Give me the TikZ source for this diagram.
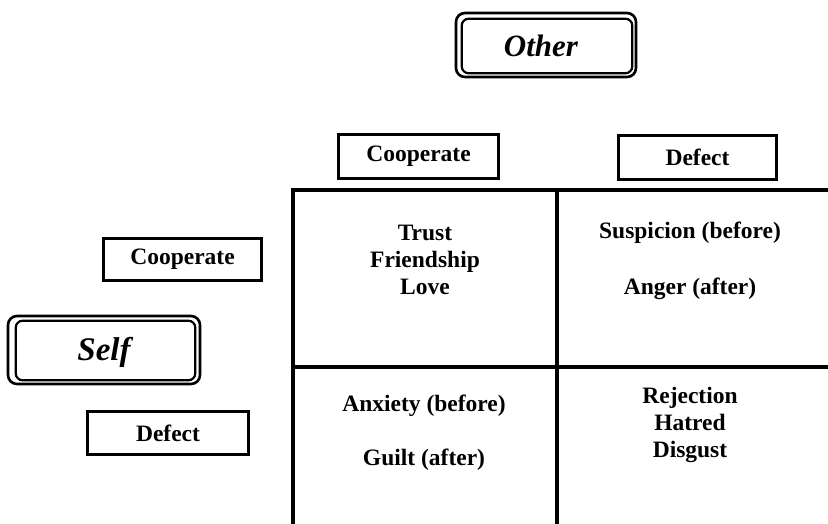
\documentclass[tikz,border=0pt]{standalone}
\usepackage{fontspec}
\setmainfont{Liberation Serif}
\begin{document}
\begin{tikzpicture}[x=1pt,y=-1pt,
  labelbox/.style={draw,line width=3.5pt,inner sep=0pt,font=\fontsize{23.5}{27}\selectfont\bfseries},
  outerbox/.style={draw,line width=2.6pt,rounded corners=9pt,inner sep=0pt},
  innerbox/.style={draw,line width=2.2pt,rounded corners=7pt},
  bigtext/.style={font=\fontsize{31}{34}\selectfont\bfseries\itshape,inner sep=0pt},
  celltext/.style={align=center,font=\fontsize{23.5}{27}\selectfont\bfseries,inner sep=0pt},
  gridline/.style={line width=3.8pt}]
\useasboundingbox (0,0) rectangle (828,524);
% Other
\node[outerbox,minimum width=180pt,minimum height=64pt] (otherbox) at (546,45) {};
\draw[innerbox] ([xshift=7pt,yshift=-7pt]otherbox.north west) rectangle ([xshift=-5pt,yshift=5pt]otherbox.south east);
\node[bigtext] (othertext) at (541,46) {Other};
% Self
\node[outerbox,minimum width=192pt,minimum height=68pt] (selfbox) at (104,350) {};
\draw[innerbox] ([xshift=9pt,yshift=-6pt]selfbox.north west) rectangle ([xshift=-6pt,yshift=5pt]selfbox.south east);
\node[bigtext,font=\fontsize{33}{36}\selectfont\bfseries\itshape] (selftext) at (104,352) {Self};
% column labels
\node[labelbox,minimum width=160pt,minimum height=44pt] (ocoop) at (418.5,156.5) {Cooperate};
\node[labelbox,minimum width=158pt,minimum height=44pt] (odef) at (697.5,157.5) {Defect};
% row labels
\node[labelbox,minimum width=158pt,minimum height=42pt] (scoop) at (182.5,259.5) {Cooperate};
\node[labelbox,minimum width=161pt,minimum height=43pt] (sdef) at (168,433) {Defect};
% grid
\coordinate (tl) at (293,190);
\coordinate (tr) at (828,190);
\coordinate (bl) at (293,524);
\coordinate (tm) at (557,190);
\coordinate (bm) at (557,524);
\coordinate (ml) at (293,367);
\coordinate (mr) at (828,367);
\draw[gridline] (tr) -- (tl) -- (bl);
\draw[gridline] (tm) -- (bm);
\draw[gridline] (ml) -- (mr);
% cells
\node[celltext] (cc) at (425,260) {Trust\\Friendship\\Love};
\node[celltext] (cd) at (690,261) {Suspicion (before)\\[29pt]Anger (after)};
\node[celltext] (dc) at (424,433) {Anxiety (before)\\[27pt]Guilt (after)};
\node[celltext] (dd) at (690,425) {Rejection\\Hatred\\Disgust};
\end{tikzpicture}
\end{document}
